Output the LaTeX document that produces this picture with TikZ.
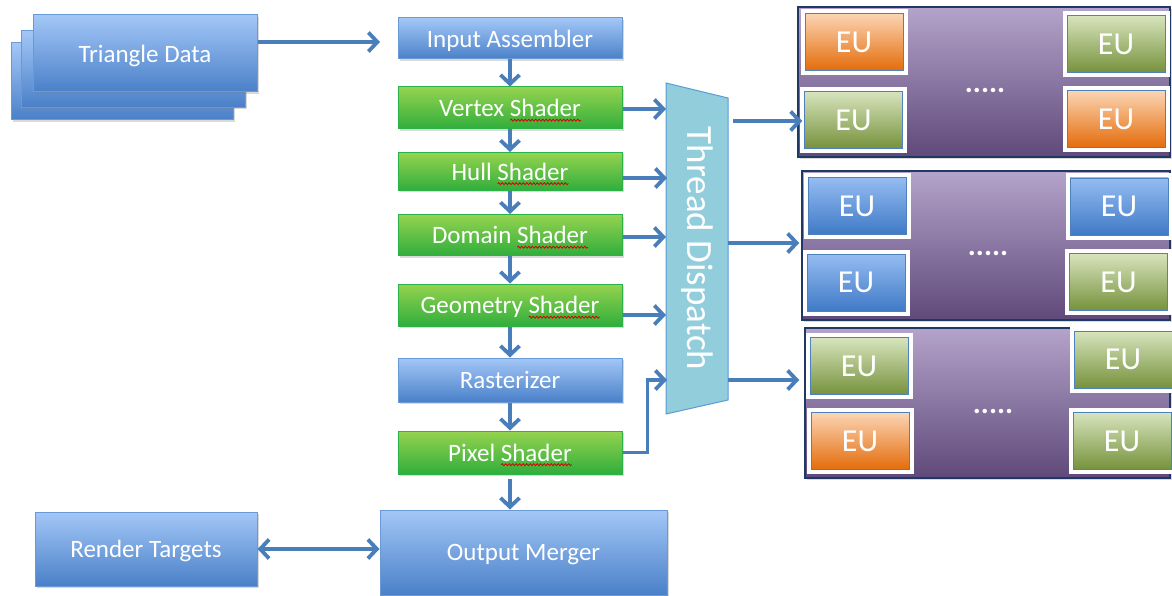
\documentclass[tikz,border=0pt]{standalone}
\usepackage{fontspec}
\setmainfont{Carlito}
\usetikzlibrary{arrows.meta,shadows,decorations.pathmorphing,calc}

\definecolor{arrowc}{HTML}{4A7EBB}
\definecolor{bluetop}{HTML}{A3C7F7}
\definecolor{bluebot}{HTML}{4A80C8}
\definecolor{blueline}{HTML}{6A9AD6}
\definecolor{greentop}{HTML}{95D34F}
\definecolor{greenbot}{HTML}{30AE3C}
\definecolor{greenline}{HTML}{2DB24A}
\definecolor{tdfill}{HTML}{92CDDC}
\definecolor{tdline}{HTML}{5B9BD5}
\definecolor{purtop}{HTML}{B4A3CA}
\definecolor{purbot}{HTML}{5F497A}
\definecolor{navy}{HTML}{1F3864}
\definecolor{ortop}{HTML}{FBD5B5}
\definecolor{orbot}{HTML}{E46C0A}
\definecolor{grtop}{HTML}{D7E4BD}
\definecolor{grbot}{HTML}{76923C}
\definecolor{eubtop}{HTML}{95BCF2}
\definecolor{eubbot}{HTML}{3F7AC6}
\definecolor{eulinec}{HTML}{4F81BD}
\newlength\shaderw

\begin{document}
\settowidth{\shaderw}{\fontsize{25}{30}\selectfont Shader}
\begin{tikzpicture}[x=1pt,y=-1pt,
  lbl/.style={font=\fontsize{25}{30}\selectfont, text=white, inner sep=0pt, text depth=0pt},
  shad/.style={drop shadow={opacity=0.3, shadow xshift=1.5pt, shadow yshift=-2pt}},
  bbox/.style={draw=blueline, line width=1pt, top color=bluetop, bottom color=bluebot, inner sep=0pt, shad},
  gbox/.style={draw=greenline, line width=1pt, top color=greentop, bottom color=greenbot, inner sep=0pt, shad},
  tip/.tip={Straight Barb[length=9pt,width=19pt]},
  arr/.style={draw=arrowc, line width=3.8pt, -tip},
  squig/.style={draw=red!85!black, line width=0.8pt, decorate, decoration={snake, amplitude=1pt, segment length=3.5pt}},
  panel/.style={draw=navy, line width=1.5pt, top color=purtop, bottom color=purbot, inner sep=0pt, shad},
  eu/.style={draw=eulinec, line width=0.8pt, minimum width=98pt, minimum height=57pt, inner sep=0pt,
    font=\fontsize{32}{36}\selectfont, text=white, preaction={draw=white, line width=9pt}},
  euo/.style={eu, top color=ortop, bottom color=orbot},
  eug/.style={eu, top color=grtop, bottom color=grbot},
  eub/.style={eu, top color=eubtop, bottom color=eubbot},
  dots/.style={font=\fontsize{30}{30}\selectfont\bfseries, text=white, inner sep=0pt}
]
\useasboundingbox (0,0) rectangle (1172,596);

% Triangle data stack
\node[bbox, minimum width=222pt, minimum height=77pt] (tdc) at (122,81.5) {};
\node[bbox, minimum width=224pt, minimum height=77pt] (tdb) at (133,69) {};
\node[bbox, minimum width=224pt, minimum height=77pt] (tda) at (145,53.5) {};
\node[lbl] (tdl) at (tda) {Triangle Data};

% pipeline
\node[bbox, minimum width=224pt, minimum height=41pt] (ia) at (510,38.5) {};
\node[lbl] (ial) at (ia) {Input Assembler};
\node[gbox, minimum width=224pt, minimum height=42pt] (vs) at (510,108) {};
\node[lbl] (vsl) at (vs) {Vertex Shader};
\node[gbox, minimum width=224pt, minimum height=38pt] (hs) at (510,171.5) {};
\node[lbl] (hsl) at (hs) {Hull Shader};
\node[gbox, minimum width=224pt, minimum height=41pt] (ds) at (510,235) {};
\node[lbl] (dsl) at (ds) {Domain Shader};
\node[gbox, minimum width=224pt, minimum height=42pt] (gs) at (510,305) {};
\node[lbl] (gsl) at (gs) {Geometry Shader};
\node[bbox, minimum width=224pt, minimum height=44pt] (rs) at (510,380) {};
\node[lbl] (rsl) at (rs) {Rasterizer};
\node[gbox, minimum width=224pt, minimum height=43pt] (ps) at (510,452.5) {};
\node[lbl] (psl) at (ps) {Pixel Shader};
\node[bbox, minimum width=287pt, minimum height=85pt] (om) at (523.5,552.5) {};
\node[lbl] (oml) at (om) {Output Merger};
\node[bbox, minimum width=222pt, minimum height=74pt] (rt) at (146,549) {};
\node[lbl] (rtl) at (rt) {Render Targets};

% spell-check squiggles under "Shader"
\foreach \n in {vsl,hsl,dsl,gsl,psl}{
  \draw[squig] ([xshift=-\shaderw, yshift=-3.5pt]\n.base east) -- ([yshift=-3.5pt]\n.base east);
}

% pipeline arrows
\coordinate (tin) at (380,42);
\draw[arr] (tda.east |- tin) -- (tin);
\draw[arr] (ia.south) -- (vs.north);
\draw[arr] (vs.south) -- (hs.north);
\draw[arr] (hs.south) -- (ds.north);
\draw[arr] (ds.south) -- (gs.north);
\draw[arr] (gs.south) -- (rs.north);
\draw[arr] (rs.south) -- (ps.north);
\draw[arr, shorten <=4pt] (ps.south) -- (ps.south |- om.north);
\draw[arr, tip-tip] (rt.east) -- (rt.east -| om.west);

% thread dispatch
\coordinate (tdA) at (666,83);
\coordinate (tdB) at (728,98);
\coordinate (tdC) at (728,400);
\coordinate (tdD) at (666,414);
\draw[draw=tdline, fill=tdfill, line width=1pt] (tdA) -- (tdB) -- (tdC) -- (tdD) -- cycle;
\node[rotate=-90, font=\fontsize{37}{40}\selectfont, text=white] (td) at (697,248.5) {Thread Dispatch};

\coordinate (in1) at (666,109);
\coordinate (in2) at (667,178);
\coordinate (in3) at (666,237);
\coordinate (in4) at (666,315);
\coordinate (in5) at (667,380);
\draw[arr] (vs.east |- in1) -- (in1);
\draw[arr] (hs.east |- in2) -- (in2);
\draw[arr] (ds.east |- in3) -- (in3);
\draw[arr] (gs.east |- in4) -- (in4);
\draw[arr] (ps.east) -- ++(25,0) |- (in5);

% panels
\node[panel, minimum width=372pt, minimum height=150pt] (p1) at (984,82) {};
\node[panel, minimum width=368pt, minimum height=149pt] (p2) at (986,245.5) {};
\node[panel, minimum width=365pt, minimum height=150pt] (p3) at (987.5,403) {};

\node[dots] (d1) at (985,90) {.....};
\node[dots] (d2) at (988,253) {.....};
\node[dots] (d3) at (993,411) {.....};

\node[euo] (e11) at (854,42) {EU};
\node[eug] (e12) at (853.5,120) {EU};
\node[eug] (e13) at (1116,44) {EU};
\node[euo] (e14) at (1116,119) {EU};

\node[eub] (e21) at (857,206) {EU};
\node[eub] (e22) at (856,282.5) {EU};
\node[eub] (e23) at (1119,206.5) {EU};
\node[eug] (e24) at (1118.5,282) {EU};

\node[eug] (e31) at (859,366) {EU};
\node[euo] (e32) at (860,441) {EU};
\node[eug] (e33) at (1123,359.5) {EU};
\node[eug] (e34) at (1122,441) {EU};

% dispatch outputs
\coordinate (out1) at (733,121);
\coordinate (out2) at (728,243);
\coordinate (out3) at (728,380);
\draw[arr, shorten >=-5pt] (out1) -- (out1 -| p1.west);
\draw[arr, shorten >=2pt] (out2) -- (out2 -| p2.west);
\draw[arr, shorten >=5pt] (out3) -- (out3 -| p3.west);
\end{tikzpicture}
\end{document}
